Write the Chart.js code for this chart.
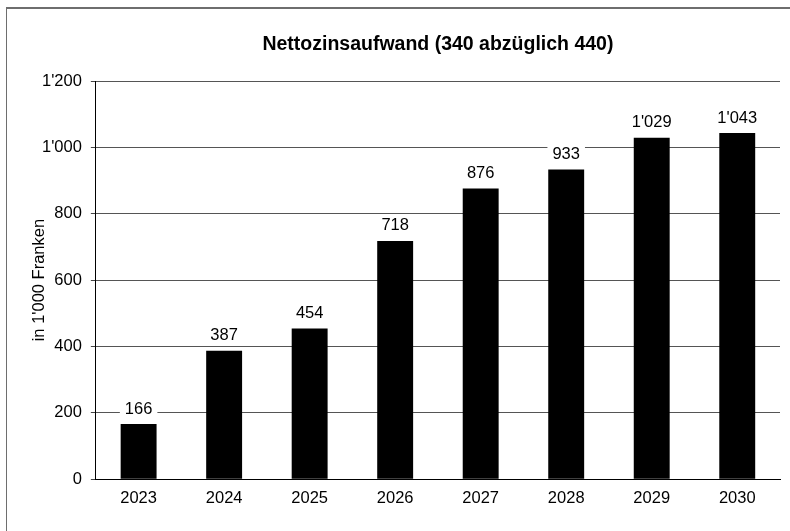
<!DOCTYPE html>
<html>
<head>
<meta charset="utf-8">
<script src="https://cdn.jsdelivr.net/npm/chart.js@4/dist/chart.umd.min.js"></script>
<style>
  html, body { margin: 0; padding: 0; background: #fff; overflow: hidden; }
  #wrap { position: relative; width: 790px; height: 531px; }
  #frame { position: absolute; left: 6px; top: 7px; width: 900px; height: 700px; border: 1px solid #6e6e6e; border-width: 2px 0 0 1px; box-sizing: border-box; }
  canvas { position: absolute; left: 0; top: 0; }
</style>
</head>
<body>
<div id="wrap">
  <div id="frame"></div>
  <canvas id="chart" width="790" height="531"></canvas>
</div>
<script>
// Nettozinsaufwand — bar chart
const years = ['2023', '2024', '2025', '2026', '2027', '2028', '2029', '2030']
const values = [166, 387, 454, 718, 876, 933, 1029, 1043]
const yTicks = [0, 200, 400, 600, 800, 1000, 1200]
const title = 'Nettozinsaufwand (340 abzüglich 440)'
const yTitle = "in 1'000 Franken"

const FONT = 'Arial, "Liberation Sans", sans-serif'
const SIZE = 16.5

function fmt (n) {
  return String(n).replace(/\B(?=(\d{3})+(?!\d))/g, "'")
}

// value labels on white boxes, title over the plot, y axis title
const extras = {
  id: 'extras',
  afterDatasetsDraw (chart) {
    const ctx = chart.ctx
    const meta = chart.getDatasetMeta(0)
    const area = chart.chartArea
    ctx.save()
    ctx.font = SIZE + 'px ' + FONT
    ctx.textAlign = 'center'
    ctx.textBaseline = 'middle'
    meta.data.forEach((bar, i) => {
      const txt = fmt(values[i])
      const w = ctx.measureText(txt).width + 10
      const y = bar.y - 15
      ctx.fillStyle = '#fff'
      ctx.fillRect(bar.x - w / 2, y - 9, w, 18)
      ctx.fillStyle = '#000'
      ctx.fillText(txt, bar.x, y)
    })
    ctx.font = 'bold 19.5px ' + FONT
    ctx.fillText(title, (area.left + area.right) / 2, 45)
    ctx.font = SIZE + 'px ' + FONT
    ctx.translate(39, (area.top + area.bottom) / 2)
    ctx.rotate(-Math.PI / 2)
    ctx.fillText(yTitle, 0, 0)
    ctx.restore()
  }
}

new Chart(document.getElementById('chart'), {
  type: 'bar',
  data: {
    labels: years,
    datasets: [{
      data: values,
      backgroundColor: '#000',
      barPercentage: 0.42,
      categoryPercentage: 1
    }]
  },
  options: {
    responsive: false,
    animation: false,
    layout: { padding: { top: 81, right: 10, bottom: 22, left: 33 } },
    plugins: {
      legend: { display: false },
      tooltip: { enabled: false },
      title: { display: false }
    },
    scales: {
      x: {
        grid: { display: false },
        border: { color: '#000', width: 1 },
        ticks: { color: '#000', font: { family: FONT, size: SIZE }, padding: 1 }
      },
      y: {
        min: 0,
        max: 1200,
        afterBuildTicks (axis) { axis.ticks = yTicks.map(v => ({ value: v })) },
        grid: { color: '#555', borderDash: [1, 1], tickLength: 5, tickBorderDash: [], tickColor: '#444' },
        border: { color: '#000', width: 1 },
        ticks: { color: '#000', font: { family: FONT, size: SIZE }, padding: 9, callback: v => fmt(v) }
      }
    }
  },
  plugins: [extras]
})
</script>
</body>
</html>
